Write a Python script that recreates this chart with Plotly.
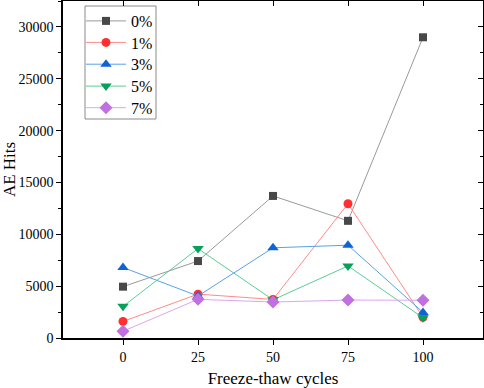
import plotly.graph_objects as go

cycles = [0, 25, 50, 75, 100]
labels = ["0%", "1%", "3%", "5%", "7%"]
hits_0 = [4950, 7420, 13700, 11300, 29000]
hits_1 = [1600, 4230, 3720, 12950, 2000]
hits_3 = [6800, 4050, 8700, 8950, 2470]
hits_5 = [3050, 8620, 3680, 6950, 1950]
hits_7 = [650, 3730, 3470, 3660, 3640]
series = [hits_0, hits_1, hits_3, hits_5, hits_7]

marker_colors = ["#484848", "#ff3030", "#0e63d8", "#05a05a", "#c070e0"]
line_colors = ["#9a9a9a", "#ff8a8a", "#5aa0ea", "#5ccc98", "#d9a8ee"]
symbols = ["square", "circle", "triangle-up", "triangle-down", "diamond"]
sizes = [8, 9, 10, 10, 10]

font = "Liberation Serif"

# plot area in pixels (for placing legend entries)
PL, PR, PT, PB = 63, 483, 1, 338
def px_x(p):
    return (p - PL) / (PR - PL)
def px_y(p):
    return (PB - p) / (PB - PT)

legend_rows = [21, 42.5, 64.3, 86.2, 107.8]

fig = go.Figure()
legend_layout = {}
for i, (lab, ys, mc, lc, sym, sz) in enumerate(zip(labels, series, marker_colors, line_colors, symbols, sizes)):
    lname = "legend" if i == 0 else f"legend{i + 1}"
    fig.add_trace(go.Scatter(
        x=cycles, y=ys, name=lab, mode="lines+markers",
        line=dict(color=lc, width=1),
        marker=dict(color=mc, symbol=sym, size=sz),
        legend=lname,
    ))
    legend_layout[lname] = dict(
        x=px_x(81), y=px_y(legend_rows[i]), xanchor="left", yanchor="middle",
        bgcolor="rgba(0,0,0,0)", borderwidth=0,
        font=dict(family=font, size=16, color="black"),
        itemwidth=40,
    )

fig.add_trace(go.Scatter(x=[None], y=[None], xaxis="x2", yaxis="y2", showlegend=False))

axis_common = dict(showline=True, linewidth=1.5, linecolor="black",
                   showgrid=False, zeroline=False, automargin=False,
                   tickwidth=1.2, ticklen=5, tickcolor="black")

fig.add_shape(type="rect", xref="paper", yref="paper",
              x0=px_x(85), x1=px_x(156), y0=px_y(119), y1=px_y(6),
              line=dict(color="#8a8a8a", width=1), fillcolor="white", layer="below")

fig.update_layout(
    width=484, height=388,
    margin=dict(l=PL, r=484 - PR, t=PT, b=388 - PB, autoexpand=False),
    paper_bgcolor="white", plot_bgcolor="white",
    font=dict(family=font, size=14, color="black"),
    xaxis=dict(range=[-20, 120], tickvals=cycles, ticks="outside",
               title=dict(text="Freeze-thaw cycles", font=dict(family=font, size=17), standoff=14),
               tickfont=dict(family=font, size=14), **axis_common),
    yaxis=dict(range=[0, 32500], dtick=5000, tickformat="d", ticks="outside",
               minor=dict(dtick=2500, ticks="outside", ticklen=3, tickcolor="black"),
               title=dict(text="AE Hits", font=dict(family=font, size=17), standoff=6),
               tickfont=dict(family=font, size=14), **axis_common),
    xaxis2=dict(range=[-20, 120], tickvals=cycles, ticks="inside", showticklabels=False,
                overlaying="x", side="top", **axis_common),
    yaxis2=dict(range=[0, 32500], dtick=5000, ticks="inside", showticklabels=False,
                minor=dict(dtick=2500, ticks="inside", ticklen=3, tickcolor="black"),
                overlaying="y", side="right", **axis_common),
    showlegend=True,
    **legend_layout,
)

fig.write_html("out.html", config={"displayModeBar": False},
               post_script="document.body.style.margin='0';document.body.style.overflow='hidden';")
